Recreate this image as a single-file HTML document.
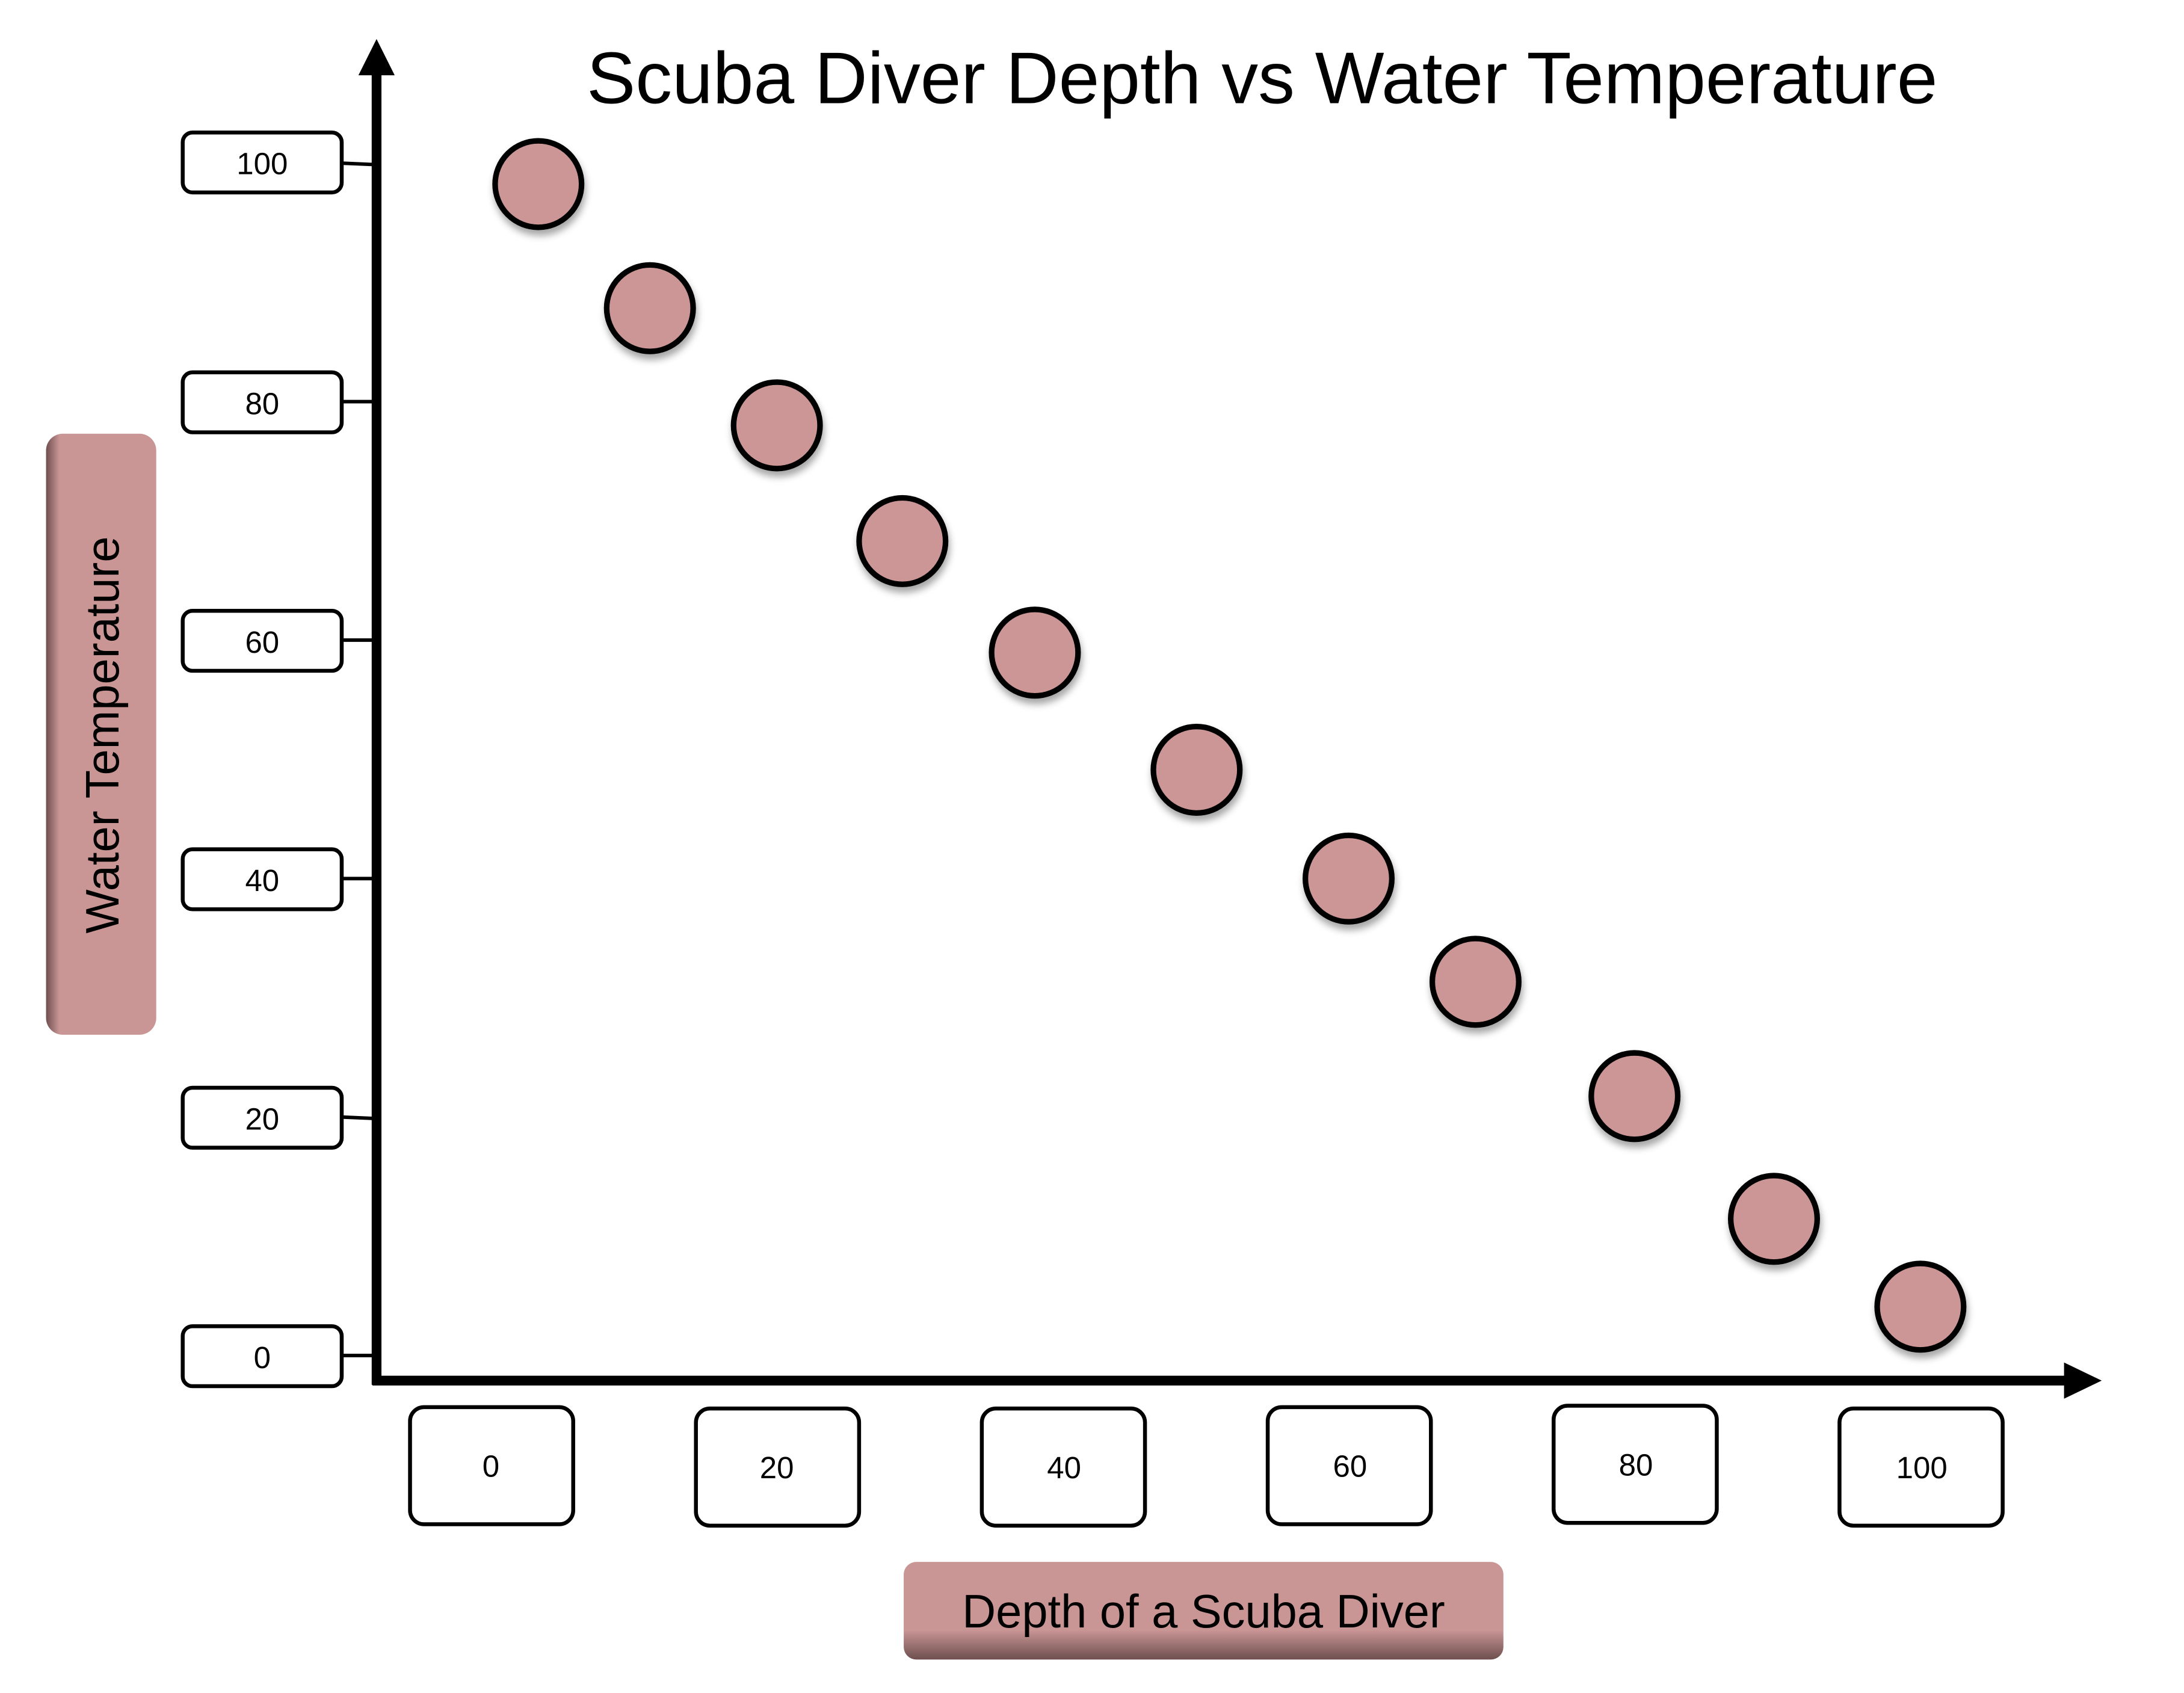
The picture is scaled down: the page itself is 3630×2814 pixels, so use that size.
<!DOCTYPE html>
<html><head><meta charset="utf-8"><style>
html,body{margin:0;padding:0;background:#fff;}
svg{display:block;}
text{font-family:"Liberation Sans",sans-serif;fill:#000;}
</style></head><body>
<svg width="3630" height="2814" viewBox="0 0 1566 1214" xmlns="http://www.w3.org/2000/svg">
<defs>
<filter id="sh" x="-30%" y="-30%" width="160%" height="170%"><feDropShadow dx="1" dy="4" stdDeviation="2.5" flood-color="#000" flood-opacity="0.35"/></filter>
<linearGradient id="gy" x1="0" y1="0" x2="1" y2="0"><stop offset="0" stop-color="#6e4f4f"/><stop offset="0.12" stop-color="#c99595"/><stop offset="1" stop-color="#c99595"/></linearGradient>
<linearGradient id="gx" x1="0" y1="0" x2="0" y2="1"><stop offset="0" stop-color="#c99595"/><stop offset="0.7" stop-color="#c99595"/><stop offset="1" stop-color="#6e4f4f"/></linearGradient>
</defs>
<rect width="1566" height="1214" fill="#fff"/>
<text x="905" y="74" font-size="52.5" text-anchor="middle">Scuba Diver Depth vs Water Temperature</text>
<line x1="270" y1="50" x2="270" y2="993" stroke="#000" stroke-width="7"/>
<polygon points="270,28 257,54 283,54" fill="#000"/>
<line x1="267" y1="990" x2="1482" y2="990" stroke="#000" stroke-width="7"/>
<polygon points="1507,990 1480,977 1480,1003" fill="#000"/>
<g stroke="#000" stroke-width="2.5">
<line x1="245" y1="117" x2="268" y2="118"/><line x1="245" y1="288" x2="268" y2="288"/><line x1="245" y1="459" x2="268" y2="459"/><line x1="245" y1="630" x2="268" y2="630"/><line x1="245" y1="801" x2="268" y2="802"/><line x1="245" y1="972" x2="268" y2="972"/>
</g>
<g fill="#fff" stroke="#000" stroke-width="2.8">
<rect x="131" y="95" width="114" height="43" rx="7"/>
<rect x="131" y="267" width="114" height="43" rx="7"/>
<rect x="131" y="438" width="114" height="43" rx="7"/>
<rect x="131" y="609" width="114" height="43" rx="7"/>
<rect x="131" y="780" width="114" height="43" rx="7"/>
<rect x="131" y="951" width="114" height="43" rx="7"/>
</g>
<g font-size="22" text-anchor="middle">
<text x="188" y="125">100</text><text x="188" y="297">80</text><text x="188" y="468">60</text><text x="188" y="639">40</text><text x="188" y="810">20</text><text x="188" y="981">0</text>
</g>
<g fill="#fff" stroke="#000" stroke-width="2.8">
<rect x="294" y="1009" width="117" height="84" rx="10"/>
<rect x="499" y="1010" width="117" height="84" rx="10"/>
<rect x="704" y="1010" width="117" height="84" rx="10"/>
<rect x="909" y="1009" width="117" height="84" rx="10"/>
<rect x="1114" y="1008" width="117" height="84" rx="10"/>
<rect x="1319" y="1010" width="117" height="84" rx="10"/>
</g>
<g font-size="22" text-anchor="middle">
<text x="352" y="1059">0</text><text x="557" y="1060">20</text><text x="763" y="1060">40</text><text x="968" y="1059">60</text><text x="1173" y="1058">80</text><text x="1378" y="1060">100</text>
</g>
<rect x="33" y="311" width="79" height="431" rx="12" fill="url(#gy)"/>
<text transform="translate(85,527) rotate(-90)" font-size="33.5" text-anchor="middle">Water Temperature</text>
<rect x="648" y="1120" width="430" height="70" rx="9" fill="url(#gx)"/>
<text x="863" y="1167" font-size="33.5" text-anchor="middle">Depth of a Scuba Diver</text>
<g fill="#cc9696" stroke="#000" stroke-width="4" filter="url(#sh)">
<circle cx="386" cy="132" r="31"/><circle cx="466" cy="221" r="31"/><circle cx="557" cy="305" r="31"/><circle cx="647" cy="388" r="31"/><circle cx="742" cy="468" r="31"/><circle cx="858" cy="552" r="31"/><circle cx="967" cy="630" r="31"/><circle cx="1058" cy="704" r="31"/><circle cx="1172" cy="786" r="31"/><circle cx="1272" cy="874" r="31"/><circle cx="1377" cy="937" r="31"/>
</g>
</svg>
</body></html>
